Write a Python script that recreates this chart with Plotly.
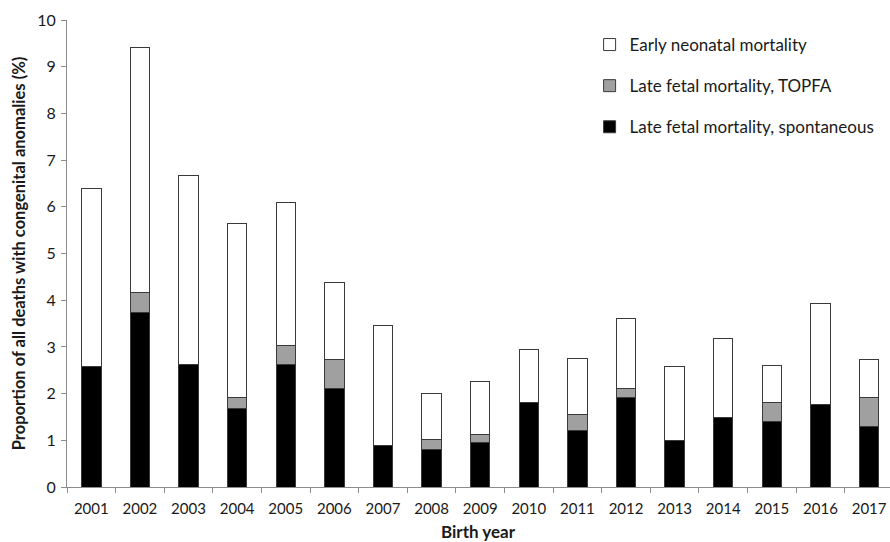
import plotly.graph_objects as go

years = [str(y) for y in range(2001, 2018)]
spontaneous = [2.58, 3.73, 2.63, 1.68, 2.63, 2.10, 0.88, 0.81, 0.96, 1.81, 1.22, 1.91, 1.00, 1.49, 1.41, 1.76, 1.29]
topfa = [0.00, 0.43, 0.00, 0.23, 0.41, 0.62, 0.00, 0.20, 0.17, 0.00, 0.34, 0.19, 0.00, 0.00, 0.41, 0.00, 0.62]
early_neonatal = [3.81, 5.25, 4.04, 3.74, 3.06, 1.65, 2.57, 1.00, 1.12, 1.14, 1.20, 1.50, 1.57, 1.68, 0.78, 2.18, 0.83]

FONT = "Lato"
line = dict(color="#3a3a3a", width=1)

fig = go.Figure()
fig.add_trace(go.Bar(x=years, y=spontaneous, name="Late fetal mortality, spontaneous",
                     marker=dict(color="#000000", line=line), width=0.4,
                     legendgroup="a", legendrank=3))
fig.add_trace(go.Bar(x=years, y=topfa, name="Late fetal mortality, TOPFA",
                     marker=dict(color="#a0a0a0", line=line), width=0.4,
                     legendgroup="b", legendrank=2))
fig.add_trace(go.Bar(x=years, y=early_neonatal, name="Early neonatal mortality",
                     marker=dict(color="#ffffff", line=line), width=0.4,
                     legendgroup="c", legendrank=1))

fig.update_layout(
    width=890, height=542,
    barmode="stack",
    plot_bgcolor="white", paper_bgcolor="white",
    margin=dict(l=67, r=0, t=20, b=55),
    font=dict(family=FONT, size=15, color="#1a1a1a"),
    legend=dict(x=0.635, y=0.985, xanchor="left", yanchor="top",
                traceorder="grouped", tracegroupgap=16,
                font=dict(size=17, family=FONT), bgcolor="rgba(0,0,0,0)",
                itemwidth=30),
    xaxis=dict(range=[-0.5, 16.43], showline=True, linecolor="#8c8c8c", linewidth=1,
               ticks="outside", tickson="boundaries", ticklen=5, tickcolor="#8c8c8c",
               ticklabelstandoff=8, automargin=False, showgrid=False),
    yaxis=dict(range=[0, 10], dtick=1, showline=True, linecolor="#8c8c8c", linewidth=1,
               ticks="outside", ticklen=5, tickcolor="#8c8c8c", showgrid=False, zeroline=False,
               ticklabelstandoff=2, tickfont=dict(size=16),
               title=dict(text="<b>Proportion of all deaths with congenital anomalies (%)</b>",
                          font=dict(size=16.5, family=FONT), standoff=7)),
    annotations=[dict(text="<b>Birth year</b>", xref="paper", yref="paper",
                      x=0.5, y=-0.096, xanchor="center", yanchor="middle",
                      showarrow=False, font=dict(size=17, family=FONT, color="#1a1a1a"))],
)

fig.write_html("out.html", config={"displayModeBar": False},
               post_script="document.body.style.margin='0';")
